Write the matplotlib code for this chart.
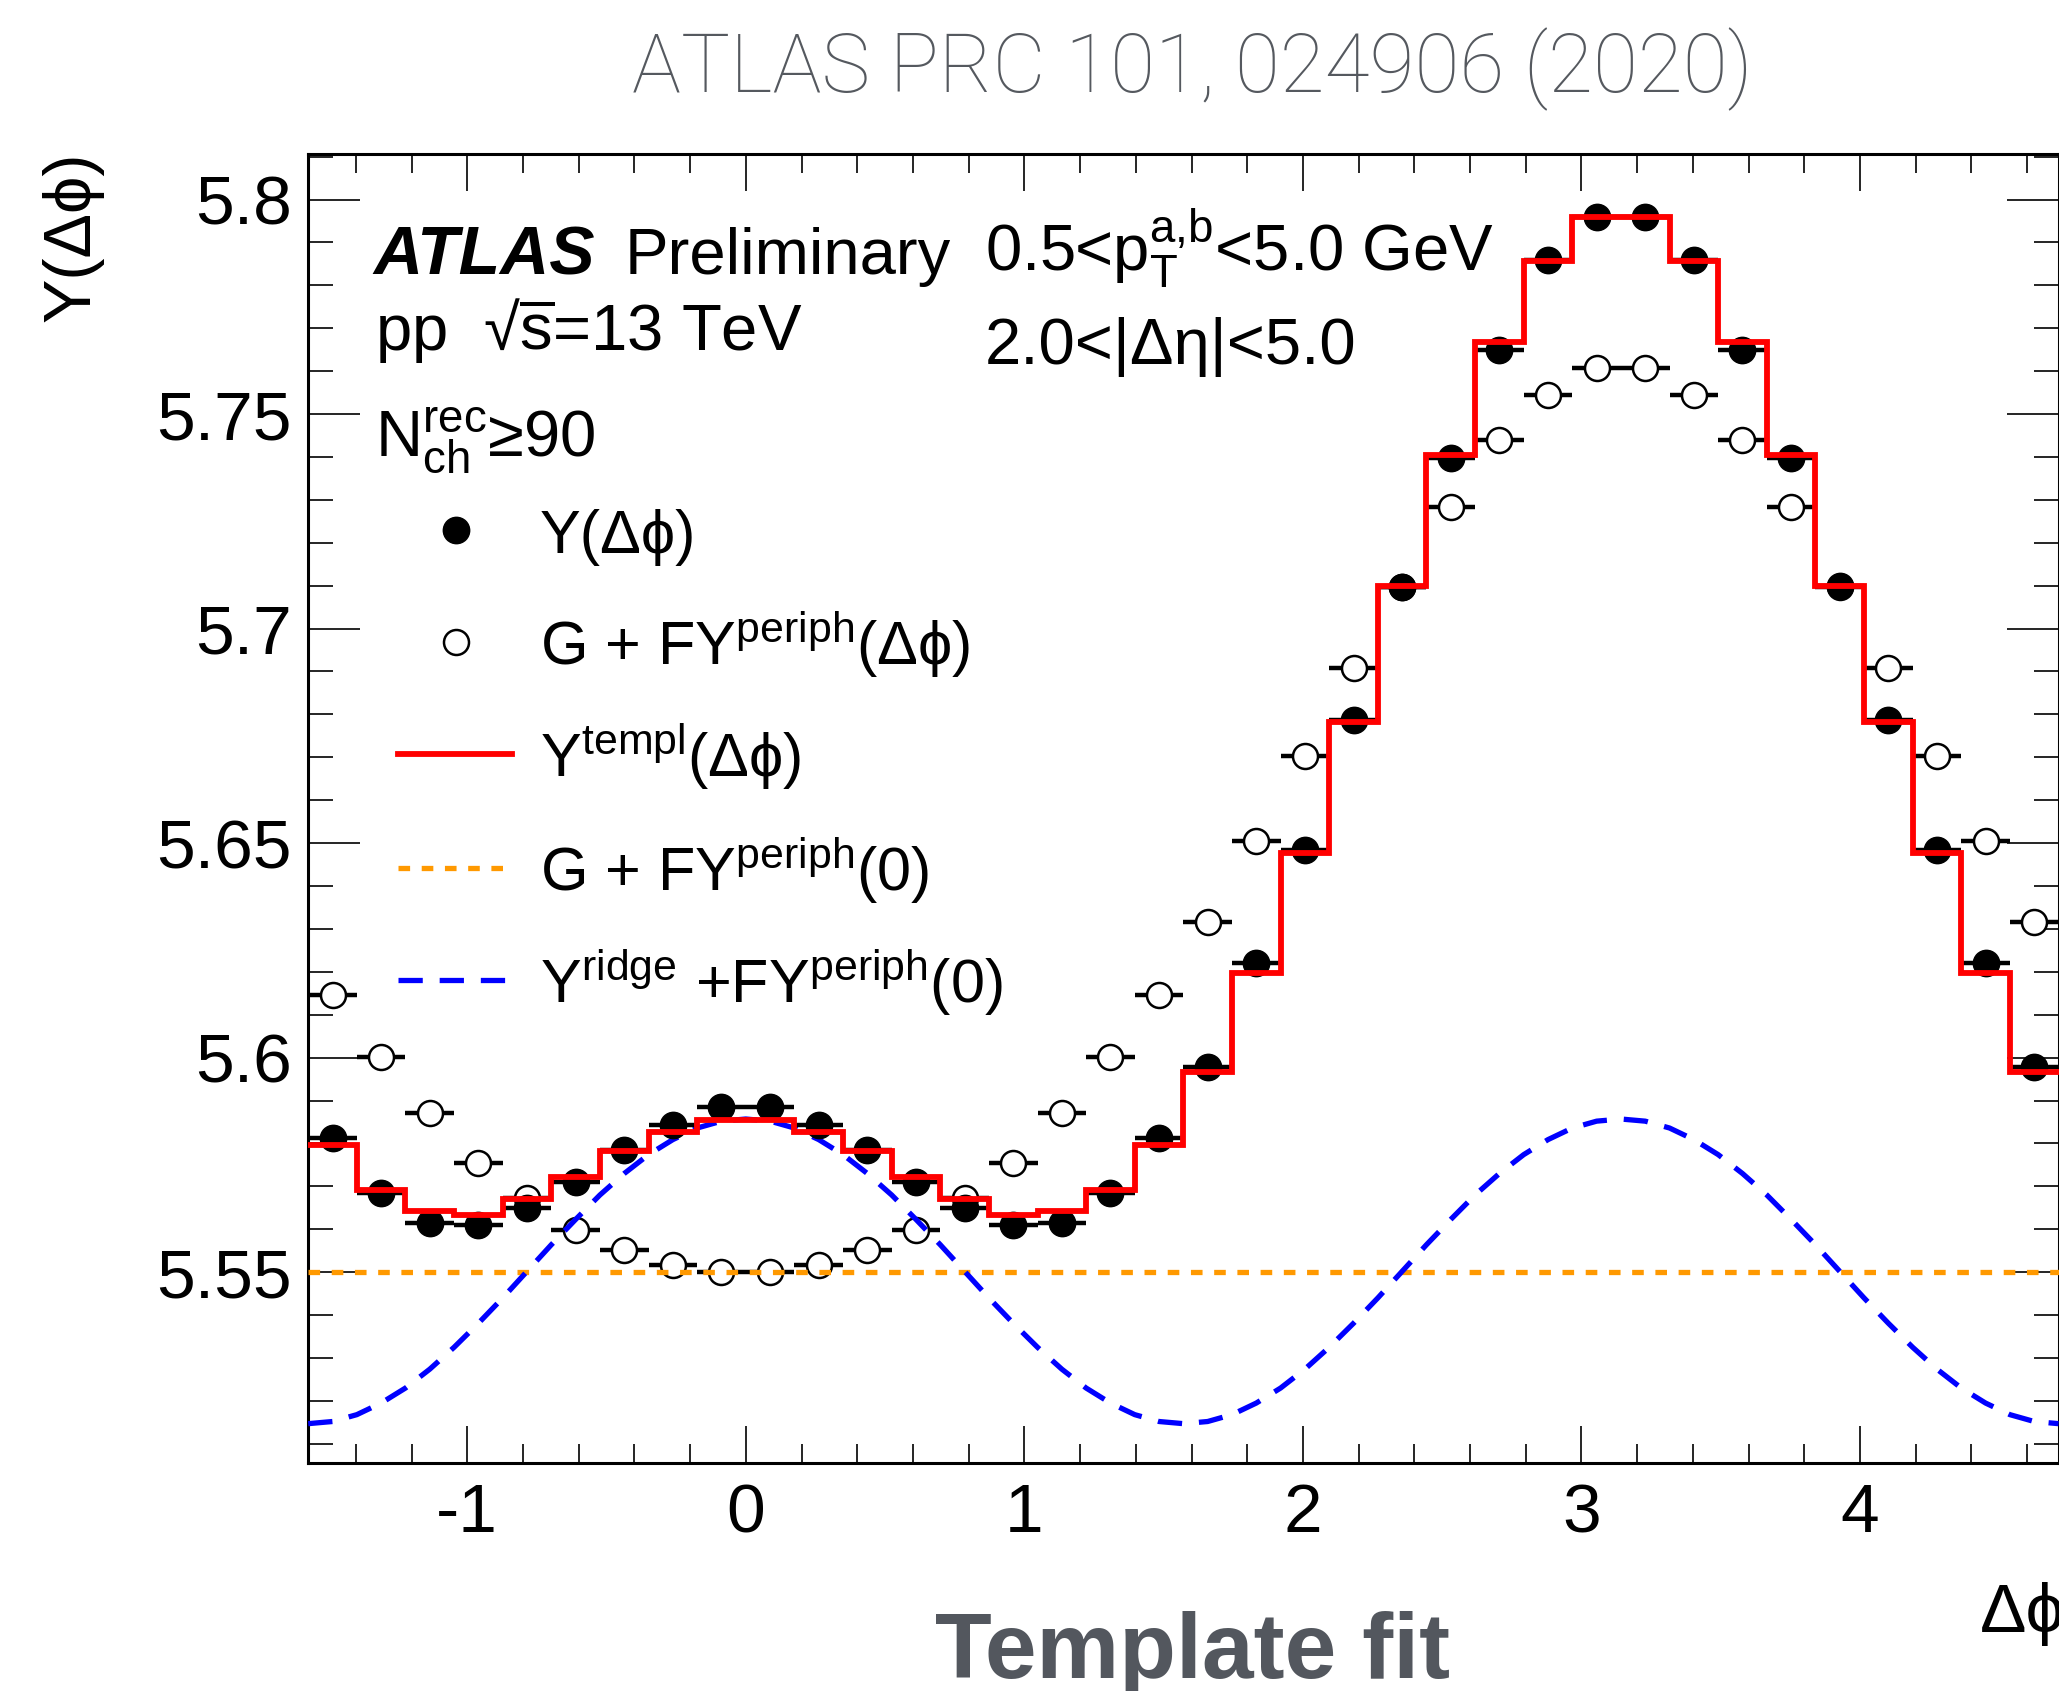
#Template fit plot, Y(dphi) vs dphi
import numpy as np
import matplotlib.pyplot as plt
from matplotlib.ticker import MultipleLocator, FormatStrFormatter

plt.rcParams['font.family'] = ['Liberation Sans', 'DejaVu Sans']
plt.rcParams['mathtext.fontset'] = 'custom'
plt.rcParams['mathtext.rm'] = 'Liberation Sans'
plt.rcParams['mathtext.it'] = 'Liberation Sans:italic'
plt.rcParams['mathtext.bf'] = 'Liberation Sans:bold'
plt.rcParams['axes.unicode_minus'] = False

# 36 bins from -pi/2 to 3pi/2
edges = np.linspace(-np.pi/2, 1.5*np.pi, 37)
centers = 0.5*(edges[:-1] + edges[1:])
halfw = 0.5*(edges[1] - edges[0])

# Y(dphi), filled points
Y_obs = [5.5812, 5.5684, 5.5615, 5.5610, 5.5650, 5.5711, 5.5785, 5.5842, 5.5884,
         5.5884, 5.5842, 5.5785, 5.5711, 5.5650, 5.5610, 5.5615, 5.5684, 5.5812,
         5.5979, 5.6220, 5.6484, 5.6786, 5.7097, 5.7397, 5.7649, 5.7859, 5.7960,
         5.7960, 5.7859, 5.7649, 5.7397, 5.7100, 5.6786, 5.6484, 5.6220, 5.5979]
# G + F Y^periph(dphi), open points
Y_periph = [5.6145, 5.6001, 5.5871, 5.5754, 5.5672, 5.5599, 5.5552, 5.5517, 5.5501,
            5.5501, 5.5517, 5.5552, 5.5599, 5.5672, 5.5754, 5.5871, 5.6001, 5.6145,
            5.6317, 5.6505, 5.6703, 5.6907, 5.7097, 5.7284, 5.7440, 5.7545, 5.7607,
            5.7607, 5.7545, 5.7440, 5.7284, 5.7097, 5.6907, 5.6703, 5.6505, 5.6317]
# Y^templ(dphi), red histogram
Y_templ = [5.5796, 5.5692, 5.5643, 5.5634, 5.5671, 5.5721, 5.5783, 5.5826, 5.5855,
           5.5855, 5.5826, 5.5783, 5.5721, 5.5671, 5.5634, 5.5643, 5.5692, 5.5796,
           5.5966, 5.6197, 5.6477, 5.6783, 5.7100, 5.7405, 5.7667, 5.7857, 5.7960,
           5.7960, 5.7857, 5.7667, 5.7405, 5.7100, 5.6783, 5.6477, 5.6197, 5.5966]
# G + F Y^periph(0), orange line
G_FY0 = 5.5500
# Y^ridge + F Y^periph(0), blue curve, read at bin edges and bin centres
ridge_x = np.linspace(-np.pi/2, 1.5*np.pi, 73)
Y_ridge = [5.5147, 5.5152, 5.5168, 5.5195, 5.5230, 5.5274, 5.5325, 5.5381, 5.5440,
           5.5502, 5.5564, 5.5623, 5.5680, 5.5730, 5.5774, 5.5809, 5.5836, 5.5852,
           5.5857, 5.5852, 5.5836, 5.5809, 5.5774, 5.5730, 5.5680, 5.5623, 5.5564,
           5.5502, 5.5440, 5.5381, 5.5325, 5.5274, 5.5230, 5.5195, 5.5168, 5.5152,
           5.5147, 5.5152, 5.5168, 5.5195, 5.5230, 5.5274, 5.5325, 5.5381, 5.5440,
           5.5502, 5.5564, 5.5623, 5.5680, 5.5730, 5.5774, 5.5809, 5.5836, 5.5852,
           5.5857, 5.5852, 5.5836, 5.5809, 5.5774, 5.5730, 5.5680, 5.5623, 5.5564,
           5.5502, 5.5440, 5.5381, 5.5325, 5.5274, 5.5230, 5.5195, 5.5168, 5.5152,
           5.5147]

ORANGE = '#ff9900'
blue_dash = (4.6, 3.2)
orange_dash = (2.2, 2.2)

fig = plt.figure(figsize=(20.59, 16.91), dpi=100)
ax = fig.add_axes([0.1497, 0.13501, 0.85006, 0.77416])

# open points: bars + white markers, lines go over them
ax.errorbar(centers, Y_periph, xerr=halfw, fmt='o', color='black', ms=18, mfc='white',
            mec='black', mew=1.8, elinewidth=3.2, capsize=0, zorder=2)
ax.axhline(G_FY0, color=ORANGE, lw=3.8, dashes=orange_dash, zorder=3)
ax.plot(ridge_x, Y_ridge, color='blue', lw=3.8, dashes=blue_dash, zorder=3)
ax.errorbar(centers, Y_obs, xerr=halfw, fmt='o', color='black', ms=19,
            elinewidth=3.2, capsize=0, zorder=4)
ax.stairs(Y_templ, edges, baseline=None, color='red', lw=4.2, zorder=5)

ax.set_xlim(-np.pi/2, 1.5*np.pi)
ax.set_ylim(5.5056, 5.8107)
ax.xaxis.set_major_locator(MultipleLocator(1))
ax.xaxis.set_minor_locator(MultipleLocator(0.2))
ax.yaxis.set_major_locator(MultipleLocator(0.05))
ax.yaxis.set_minor_locator(MultipleLocator(0.01))
ax.xaxis.set_major_formatter(FormatStrFormatter('%g'))
ax.yaxis.set_major_formatter(FormatStrFormatter('%g'))
ax.tick_params(which='both', direction='in', top=True, right=True, width=1.2)
ax.tick_params(axis='x', which='major', length=26.6, pad=14, labelsize=50)
ax.tick_params(axis='x', which='minor', length=13.4)
ax.tick_params(axis='y', which='major', length=37.4, pad=12, labelsize=50)
ax.tick_params(axis='y', which='minor', length=18)
for s in ax.spines.values():
    s.set_linewidth(2.2)

fig.text(0.035, 0.9107, 'Y(Δϕ)', rotation=90, ha='center', va='top', fontsize=48)
fig.text(0.9617, 0.0349, 'Δϕ', ha='left', va='baseline', fontsize=50)

# labels inside the frame
T = ax.transAxes
ax.text(0.0370, 0.9080, 'ATLAS', transform=T, fontsize=49, fontweight='bold', fontstyle='italic')
ax.text(0.1810, 0.9080, 'Preliminary', transform=T, fontsize=47)
ax.text(0.0381, 0.8500, r'pp  √$\overline{\mathrm{s}}$=13 TeV', transform=T, fontsize=47)
ax.text(0.0381, 0.7685, r'$\mathrm{N}_{\mathrm{ch}}^{\mathrm{rec}}$≥90', transform=T, fontsize=47)
ax.text(0.3866, 0.9097, r'0.5<$\mathrm{p}_{\mathrm{T}}^{\mathrm{a{,}b}}$<5.0 GeV', transform=T, fontsize=47)
ax.text(0.3866, 0.8395, '2.0<|Δη|<5.0', transform=T, fontsize=47)

# legend drawn by hand
rows = [0.7125, 0.6269, 0.5414, 0.4543, 0.3687]
labels = ['Y(Δϕ)',
          r'G + FY$^{\mathrm{periph}}$(Δϕ)',
          r'Y$^{\mathrm{templ}}$(Δϕ)',
          r'G + FY$^{\mathrm{periph}}$(0)',
          r'Y$^{\mathrm{ridge}}$ +FY$^{\mathrm{periph}}$(0)']
ax.plot([0.0842], [rows[0]], 'o', color='black', ms=19, transform=T)
ax.plot([0.0842], [rows[1]], 'o', color='black', ms=18, mfc='white', mew=1.8, transform=T)
ax.plot([0.0512, 0.1164], [rows[2]]*2, color='red', lw=4.2, transform=T)
ax.plot([0.0512, 0.1164], [rows[3]]*2, color=ORANGE, lw=3.8, dashes=orange_dash, transform=T)
ax.plot([0.0512, 0.1164], [rows[4]]*2, color='blue', lw=3.8, dashes=blue_dash, transform=T)
for r, lab in zip(rows, labels):
    ax.text(0.1324, r - 0.0176, lab, transform=T, fontsize=44, va='baseline')

fig.text(0.5791, 0.9457, 'ATLAS PRC 101, 024906 (2020)', ha='center', va='baseline',
         fontsize=59, color='#55595f', family=['Roboto', 'Liberation Sans'], fontweight='light')
fig.text(0.5791, 0.0075, 'Template fit', ha='center', va='baseline',
         fontsize=67, color='#53575e', fontweight='bold')

plt.savefig('out.png', dpi=100)
